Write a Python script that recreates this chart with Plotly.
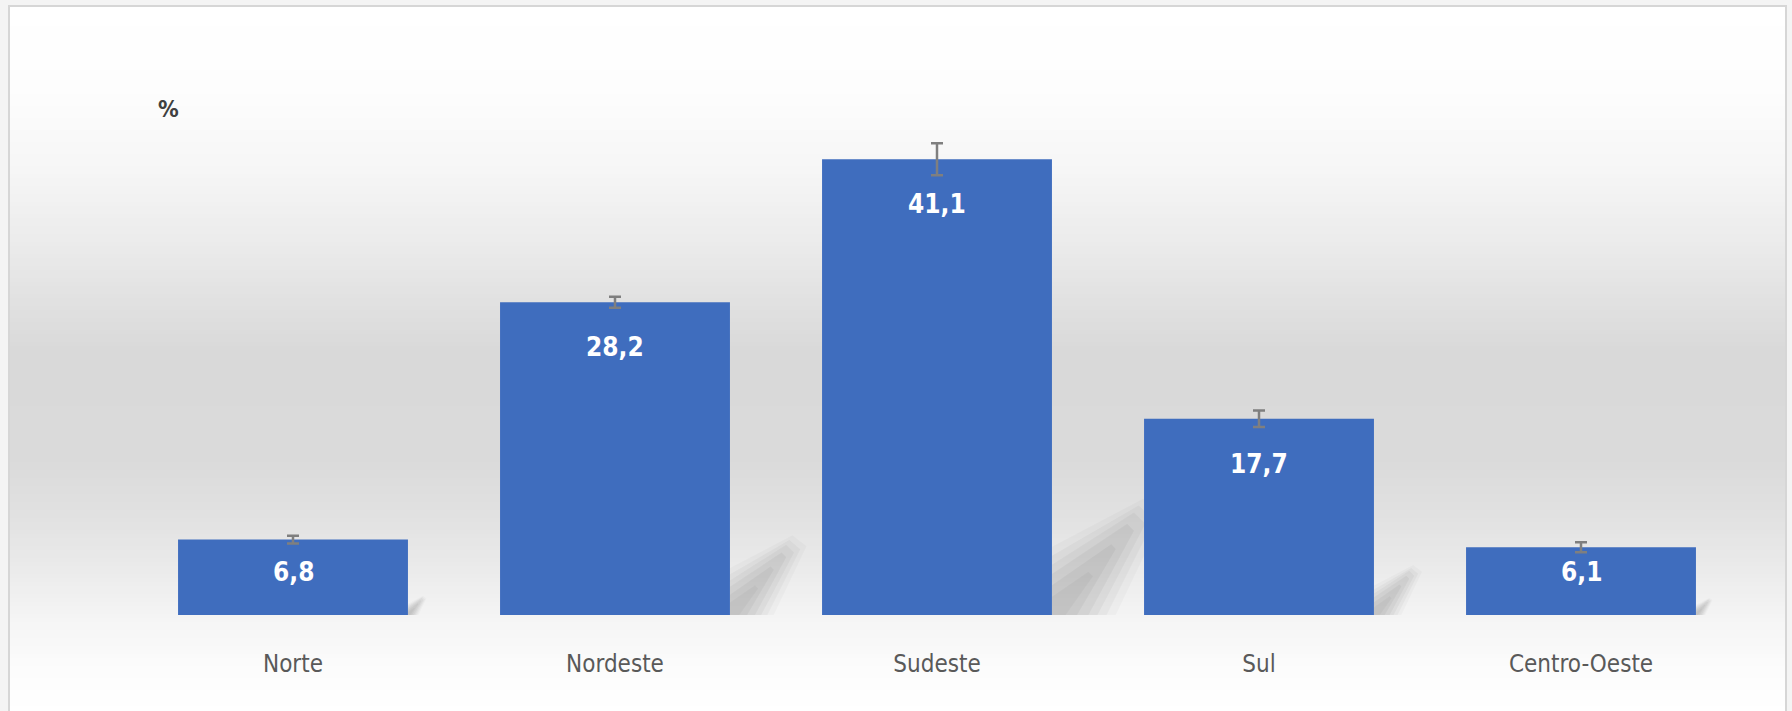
import plotly.graph_objects as go

categories = ["Norte", "Nordeste", "Sudeste", "Sul", "Centro-Oeste"]
values = [6.8, 28.2, 41.1, 17.7, 6.1]
errors = [0.35, 0.5, 1.45, 0.75, 0.45]
value_labels = ["6,8", "28,2", "41,1", "17,7", "6,1"]
unit_label = "%"

W, H = 1792, 711
ML, MR, MT, MB = 132, 50, 100, 96
PW = W - ML - MR
PH = H - MT - MB
YMAX = 46.44
BARGAP = 0.286
FONT = "DejaVu Sans Condensed, Liberation Sans Narrow, sans-serif"

PX_PER_CAT = PW / len(categories)
PX_PER_UNIT = PH / YMAX


def px_x(X):
    return (X - ML) / PW


def px_y(Y):
    return (H - MB - Y) / PH


def lerp_gray(a, b, t):
    v = round(a + (b - a) * t)
    return f"rgb({v},{v},{v})"


# background gradient bands (white -> light gray -> white)
stops = [(6, 255), (90, 253), (170, 246), (250, 234), (320, 222), (350, 217),
         (460, 218), (520, 226), (570, 235), (620, 245), (670, 252), (711, 255)]
shapes = []
x0, x1 = px_x(9), px_x(1786)
step = 4
Y = 6
while Y < H:
    Yn = min(Y + step, H)
    mid = (Y + Yn) / 2
    for (ya, ga), (yb, gb) in zip(stops[:-1], stops[1:]):
        if ya <= mid <= yb:
            col = lerp_gray(ga, gb, (mid - ya) / (yb - ya))
            break
    shapes.append(dict(type="rect", xref="paper", yref="paper", x0=x0, x1=x1,
                       y0=px_y(Yn), y1=px_y(Y), fillcolor=col,
                       line=dict(width=0), layer="below"))
    Y = Yn
shapes.append(dict(type="rect", xref="paper", yref="paper", x0=x0, x1=x1,
                   y0=px_y(H + 2), y1=px_y(6), fillcolor="rgba(0,0,0,0)",
                   line=dict(color="#d6d6d6", width=2), layer="below"))

# soft diagonal shadows to the lower right of each bar (decorative)
half_w = (1 - BARGAP) / 2
shadow_layers = [
    # (polygon in fractions of bar pixel height, opacity)
    ([(0, 0), (0, 0.15), (0.20, 0.255), (0.245, 0.22), (0.14, 0)], 0.025),
    ([(0, 0), (0, 0.13), (0.19, 0.24), (0.225, 0.21), (0.12, 0)], 0.03),
    ([(0, 0), (0, 0.11), (0.18, 0.225), (0.205, 0.20), (0.10, 0)], 0.035),
    ([(0, 0), (0, 0.09), (0.165, 0.20), (0.18, 0.185), (0.08, 0)], 0.04),
    ([(0, 0), (0, 0.065), (0.13, 0.155), (0.14, 0.145), (0.055, 0)], 0.04),
    ([(0, 0), (0, 0.04), (0.08, 0.095), (0.09, 0.085), (0.03, 0)], 0.03),
]
for i, v in enumerate(values):
    hpx = v * PX_PER_UNIT
    right = i + half_w
    for poly, op in shadow_layers:
        pts = [(right + fx * hpx / PX_PER_CAT, fy * v) for fx, fy in poly]
        path = "M " + " L ".join(f"{px:.4f},{py:.4f}" for px, py in pts) + " Z"
        shapes.append(dict(type="path", xref="x", yref="y", path=path,
                           fillcolor=f"rgba(0,0,0,{op})", line=dict(width=0),
                           layer="below"))

fig = go.Figure()
fig.add_trace(go.Bar(
    x=categories, y=values,
    marker=dict(color="#3f6dbe", line=dict(width=0)),
    error_y=dict(type="data", array=errors, visible=True,
                 color="#7f7f7f", thickness=2.5, width=6),
    hoverinfo="skip",
))

annotations = []
for c, v, t in zip(categories, values, value_labels):
    annotations.append(dict(x=c, y=max(v - 4.05, 3.9), xref="x", yref="y",
                            text=f"<b>{t}</b>", showarrow=False,
                            font=dict(family=FONT, size=26, color="white"),
                            xanchor="center", yanchor="middle"))
annotations.append(dict(x=px_x(168), y=px_y(109), xref="paper", yref="paper",
                        text=f"<b>{unit_label}</b>", showarrow=False,
                        font=dict(family=FONT, size=23, color="#404040"),
                        xanchor="center", yanchor="middle"))

fig.update_layout(
    width=W, height=H,
    margin=dict(l=ML, r=MR, t=MT, b=MB, pad=0),
    paper_bgcolor="#f4f4f4",
    plot_bgcolor="rgba(0,0,0,0)",
    bargap=BARGAP,
    showlegend=False,
    shapes=shapes,
    annotations=annotations,
    xaxis=dict(showgrid=False, zeroline=False, showline=False, ticks="",
               tickfont=dict(family=FONT, size=24, color="#595959"),
               ticklabelstandoff=32, range=[-0.5, 4.5]),
    yaxis=dict(range=[0, YMAX], showgrid=False, zeroline=False,
               showline=False, showticklabels=False, ticks=""),
)

fig.write_html("out.html", config={"displayModeBar": False},
               post_script="document.body.style.margin='0';document.body.style.overflow='hidden';")
